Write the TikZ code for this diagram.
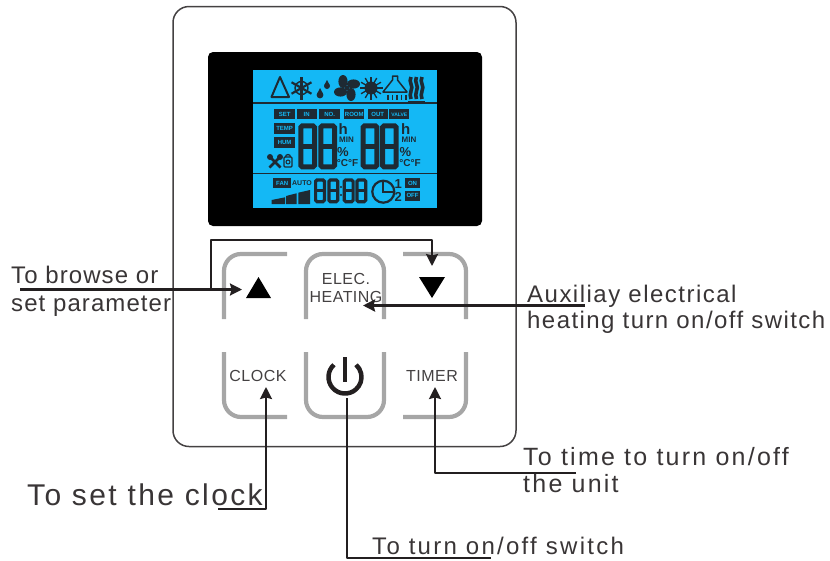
\documentclass[tikz,border=0pt]{standalone}
\usepackage{fontspec}
\setmainfont{Liberation Sans}
\usetikzlibrary{arrows.meta}

\definecolor{lcdblue}{HTML}{14B8F5}
\definecolor{lcddark}{HTML}{1E2A33}
\definecolor{keygray}{HTML}{A6A6A6}
\definecolor{inkblack}{HTML}{231F20}

\tikzset{
  keyline/.style={draw=keygray, line width=4.2pt, rounded corners=17pt},
  keytext/.style={text=inkblack!85, font=\fontsize{16}{16}\selectfont\addfontfeatures{LetterSpace=3}, inner sep=0pt},
  callout/.style={draw=inkblack, line width=2.2pt, line join=round},
  tipline/.style={callout, -{Stealth[length=12pt,width=12pt,inset=1.5pt]}},
  notetext/.style={text=inkblack!90, font=\fontsize{24}{27}\selectfont\addfontfeatures{LetterSpace=#1}, inner sep=0pt, anchor=base west},
  chip/.style={fill=lcddark, text=lcdblue, font=\bfseries\fontsize{6}{6}\selectfont, inner sep=0pt, anchor=center},
  lcdtext/.style={text=lcddark, inner sep=0pt}
}

% one seven segment digit: left, top, width, height, stroke
\newcommand{\lcddigit}[5]{
  \draw[lcddark, line width=#5pt, rounded corners=1.5pt] (#1+#5/2,#2+#5/2) rectangle (#1+#3-#5/2,#2+#4-#5/2);
  \draw[lcddark, line width=#5pt] (#1+#5/2,#2+#4/2) -- (#1+#3-#5/2,#2+#4/2);
}

\begin{document}
\begin{tikzpicture}[x=1pt,y=-1pt]
  \useasboundingbox (0,0) rectangle (830,560);

  % Case and display
  \draw[inkblack!85, line width=1.5pt, rounded corners=16pt] (173,6.5) rectangle (516,446.5);
  \fill[black, rounded corners=5pt] (208,52) rectangle (482,226);
  \fill[lcdblue] (253,69.5) rectangle (437,208);
  \draw[lcddark, line width=1.2pt] (253,103) -- (437,103);
  \draw[lcddark, line width=1.2pt] (253,173.5) -- (437,173.5);

  % Top row of icons
  \draw[lcddark, line width=2pt, line join=round] (280,77) -- (271.5,97) -- (289,97) -- cycle;
  \foreach \a in {0,60,120} {
    \draw[lcddark, line width=2.2pt] (301.5,88)+(\a+30:11.5) -- +(\a+210:11.5);
  }
  \draw[lcddark, line width=1.4pt] (301.5,88) circle (6.5);
  \fill[lcddark] (320,95) circle (3.4) (327,86) circle (3);
  \fill[lcddark] (320,88) -- (317,94) -- (323,94) -- cycle;
  \fill[lcddark] (327,80) -- (324.4,85) -- (329.6,85) -- cycle;
  \foreach \a in {0,90,180,270} {
    \fill[lcddark, rotate around={\a:(347,88)}] (353.5,84) ellipse (6.5 and 4.6);
  }
  \fill[lcddark] (347,88) circle (2.5);
  \fill[lcddark] (371,88) circle (6.5);
  \foreach \a in {0,30,...,330} {
    \draw[lcddark, line width=1.3pt] (371,88)+(\a:6) -- +(\a:11.5);
  }
  \draw[lcddark, line width=1.5pt, line join=round] (392.5,76) -- (397.5,76) -- (397.5,80) -- (407,92) -- (383,92) -- (392.5,80) -- cycle;
  \foreach \x in {388,392.5,397,401.5,406} {
    \draw[lcddark, line width=1.3pt] (\x,94.5) -- (\x,100);
  }
  \foreach \x in {411,416.5,422} {
    \draw[lcddark, line width=3.6pt] (\x,77) .. controls (\x-3,82) and (\x+3,86) .. (\x,91) .. controls (\x-2,94) and (\x,96) .. (\x,99);
  }
  \draw[lcddark, line width=1.8pt] (408,101.5) -- (425,101.5);

  % Chips of the middle band
  \node[chip, minimum width=20.5pt, minimum height=10pt] (set) at (284.6,114.3) {SET};
  \node[chip, minimum width=20pt, minimum height=10pt] (in) at (306.7,114.3) {IN};
  \node[chip, minimum width=20.5pt, minimum height=10pt] (no) at (329.7,114.3) {NO.};
  \node[chip, minimum width=20pt, minimum height=10pt] (room) at (354.3,114.3) {ROOM};
  \node[chip, minimum width=20pt, minimum height=10pt] (out) at (377.7,114.3) {OUT};
  \node[chip, minimum width=20pt, minimum height=10pt, font=\bfseries\fontsize{5}{5}\selectfont] (valve) at (399.3,114.3) {VALVE};
  \node[chip, minimum width=20.5pt, minimum height=10.5pt] (temp) at (284.6,128.7) {TEMP};
  \node[chip, minimum width=20.5pt, minimum height=11pt] (hum) at (284.6,142.8) {HUM};

  % Large digits
  \foreach \x in {298.3,318.3,360.7,380} {
    \lcddigit{\x}{123.3}{18.7}{46}{5}
  }

  % Units beside the digits
  \foreach \x in {0,62.5} {
    \node[lcdtext, font=\bfseries\fontsize{15}{15}\selectfont] (hour\x) at (343.3+\x,129) {h};
    \node[lcdtext, font=\bfseries\fontsize{8}{8}\selectfont] (min\x) at (346.5+\x,140) {MIN};
    \node[lcdtext, font=\bfseries\fontsize{13}{13}\selectfont] (pct\x) at (343+\x,152) {\%};
    \node[lcdtext, font=\bfseries\fontsize{10}{10}\selectfont] (deg\x) at (347.5+\x,163) {°C°F};
  }

  % Tool and lock icons
  \draw[lcddark, line width=2.8pt] (269.5,156.5) -- (280.5,167.5);
  \draw[lcddark, line width=2.8pt] (280.5,156.5) -- (269.5,167.5);
  \fill[lcddark] (270,157) circle (3) (280,157) circle (3);
  \draw[lcddark, line width=1.3pt, rounded corners=1pt] (284,157) rectangle (292,167);
  \draw[lcddark, line width=1.3pt] (285.5,157) arc (180:360:2.5);
  \draw[lcddark, line width=1pt] (288,162) circle (2);

  % Bottom band
  \node[chip, minimum width=17.7pt, minimum height=9.4pt] (fan) at (282.2,183) {FAN};
  \node[lcdtext, font=\bfseries\fontsize{7}{7}\selectfont] (auto) at (302,183) {AUTO};
  \fill[lcddark] (271.7,204) -- (271.7,200) -- (285,197.3) -- (285,204) -- cycle;
  \fill[lcddark] (286,204) -- (286,196) -- (296.7,193.3) -- (296.7,204) -- cycle;
  \fill[lcddark] (298.3,204) -- (298.3,192.7) -- (310,190) -- (310,204) -- cycle;
  \foreach \x in {314,327.3,342.7,355.3} {
    \lcddigit{\x}{178.3}{12}{25}{3.2}
  }
  \fill[lcddark] (341,187) circle (1.2) (341,195) circle (1.2);
  \draw[lcddark, line width=2.2pt] (383.3,191.7) circle (11);
  \draw[lcddark, line width=2.2pt] (383.3,180.7) -- (383.3,191.7) -- (394.3,191.7);
  \node[lcdtext, font=\bfseries\fontsize{13}{13}\selectfont] (one) at (398.3,184) {1};
  \node[lcdtext, font=\bfseries\fontsize{13}{13}\selectfont] (two) at (398.3,197) {2};
  \node[chip, minimum width=15pt, minimum height=10pt] (on) at (412.5,183.3) {ON};
  \node[chip, minimum width=15pt, minimum height=10.3pt] (off) at (412.5,195.8) {OFF};

  % Gray key outlines
  \draw[keyline] (224,319) -- (224,254) -- (287,254);
  \draw[keyline] (306,319) -- (306,254) -- (384,254) -- (384,319);
  \draw[keyline] (403,254) -- (466,254) -- (466,319);
  \draw[keyline] (224,352) -- (224,417) -- (287,417);
  \draw[keyline] (306,352) -- (306,417) -- (384,417) -- (384,352);
  \draw[keyline] (403,417) -- (466,417) -- (466,352);

  % Key faces
  \fill[black] (246,298) -- (271,298) -- (258.5,277) -- cycle;
  \fill[black] (419,277) -- (445,277) -- (432,298) -- cycle;
  \node[keytext] (elec) at (346,279) {ELEC.};
  \node[keytext] (heating) at (346,297) {HEATING};
  \node[keytext] (clock) at (258,375.5) {CLOCK};
  \node[keytext] (timer) at (432,375.5) {TIMER};
  \draw[inkblack, line width=4.5pt] (333.96,364.74) arc (228:-48:16.5);
  \draw[inkblack, line width=4.5pt] (345,357) -- (345,382);

  % Ends of the call-outs
  \coordinate (browsestart) at (20,289.5);
  \coordinate (browsetip) at (242,289.5);
  \coordinate (branch) at (211,289.5);
  \coordinate (downtip) at (432,266);
  \coordinate (heatstart) at (585,305.5);
  \coordinate (heattip) at (363,305.5);
  \coordinate (clockstart) at (218,509);
  \coordinate (clocktip) at (266,387);
  \coordinate (powerstart) at (347,398);
  \coordinate (powerend) at (491,558);
  \coordinate (timerstart) at (576,473);
  \coordinate (timertip) at (435,387);

  % Call-outs
  \draw[tipline] (browsestart) -- (browsetip);
  \draw[tipline] (branch) |- (432,240) -- (downtip);
  \draw[tipline, line width=2.8pt] (heatstart) -- (heattip);
  \draw[tipline] (clockstart) -| (clocktip);
  \draw[callout] (powerstart) |- (powerend);
  \draw[tipline] (timerstart) -| (timertip);

  % Labels
  \node[notetext=4.5] (browse) at (11,283) {To browse or};
  \node[notetext=4.5] (param) at (11,311) {set parameter};
  \node[notetext=6.2] (aux) at (527,302) {Auxiliay electrical};
  \node[notetext=6] (heat) at (527,328) {heating turn on/off switch};
  \node[notetext=8, font=\fontsize{30}{30}\selectfont\addfontfeatures{LetterSpace=8}] (setclock) at (27,505) {To set the clock};
  \node[notetext=9, font=\fontsize{25}{25}\selectfont\addfontfeatures{LetterSpace=9}] (time) at (523,465) {To time to turn on/off};
  \node[notetext=9, font=\fontsize{25}{25}\selectfont\addfontfeatures{LetterSpace=9}] (unit) at (523,492) {the unit};
  \node[notetext=9.5] (power) at (372,554) {To turn on/off switch};
\end{tikzpicture}
\end{document}
